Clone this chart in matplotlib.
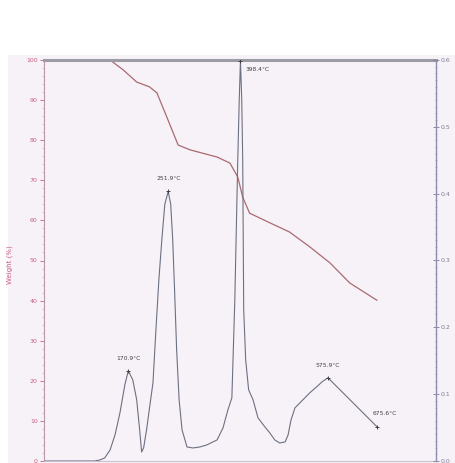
import numpy as np
import matplotlib
matplotlib.use("Agg")
import matplotlib.pyplot as plt
from matplotlib.patches import Rectangle
from matplotlib.ticker import MultipleLocator

# TG curve: temperature (deg C) vs weight (%)
tg_temp = [0, 124, 134, 161, 188, 214, 229, 249, 272, 296, 351, 377, 393,
           403, 417, 458, 498, 539, 580, 620, 675]
tg_weight = [100, 100, 100, 97.5, 94.5, 93.3, 91.8, 85.8, 78.8, 77.6, 75.8,
             74.3, 70.8, 65.8, 61.8, 59.4, 57.1, 53.4, 49.4, 44.4, 40.1]

# DTG curve: temperature (deg C) vs derivative weight
dtg_temp = [0, 52, 103, 113, 123, 134, 144, 154, 164, 170.9, 180, 188, 194,
            198, 202, 208, 214, 221, 227, 233, 239, 245, 251.9, 257, 261, 265,
            269, 274, 280, 290, 302, 316, 330, 351, 363, 373, 381, 387, 393,
            396, 398.4, 401, 403, 405, 409, 415, 424, 434, 448, 458, 468, 478,
            489, 495, 501, 509, 519, 539, 553, 564, 575.9, 675.6]
dtg_value = [0, 0, 0, 0.0015, 0.0045, 0.0165, 0.039, 0.072, 0.114, 0.135,
             0.1215, 0.0915, 0.0465, 0.0135, 0.0195, 0.0465, 0.0795, 0.117,
             0.1965, 0.2715, 0.3315, 0.384, 0.4035, 0.384, 0.3315, 0.252,
             0.1665, 0.0915, 0.0465, 0.021, 0.0195, 0.021, 0.024, 0.0315,
             0.0495, 0.0765, 0.0945, 0.2415, 0.4515, 0.5415, 0.5985, 0.5415,
             0.4515, 0.2265, 0.1515, 0.1065, 0.0915, 0.0645, 0.051, 0.042,
             0.0315, 0.027, 0.0285, 0.039, 0.0615, 0.0795, 0.087, 0.102, 0.111,
             0.1185, 0.1245, 0.051]

# annotated peaks
peak_temp = [170.9, 251.9, 398.4, 575.9, 675.6]
peak_dtg = [0.135, 0.4035, 0.5985, 0.1245, 0.051]

bg = "#f7f2f8"
tg_color = "#a86a70"
dtg_color = "#6c7080"
left_col = "#c8607e"
right_col = "#7c7c96"

fig = plt.figure(figsize=(4.56, 4.63), dpi=100, facecolor="white")
fig.patches.append(Rectangle((8 / 456, 0), 1, 408 / 463, transform=fig.transFigure,
                             facecolor=bg, edgecolor="none", zorder=-5))

ax = fig.add_axes([44 / 456, 2 / 463, 392 / 456, 401 / 463])
ax.set_facecolor(bg)
ax.plot(tg_temp, tg_weight, color=tg_color, lw=0.9)
ax.set_xlim(0, 795)
ax.set_ylim(0, 100)
ax.yaxis.set_major_locator(MultipleLocator(10))
ax.yaxis.set_minor_locator(MultipleLocator(2))
ax.tick_params(axis="y", which="major", direction="out", length=3, width=0.6,
               colors=left_col, labelsize=4.5, pad=1.5)
ax.tick_params(axis="y", which="minor", direction="out", length=1.2, width=0.4,
               colors="#c0a0b0")
ax.tick_params(axis="x", bottom=False, labelbottom=False)
for side in ["left", "right", "bottom"]:
    ax.spines[side].set_linewidth(0.8)
ax.spines["left"].set_color("#b898a8")
ax.spines["bottom"].set_color("#c8c0d0")
ax.spines["top"].set_color("#9c9ca4")
ax.spines["top"].set_linewidth(2.2)

ax2 = ax.twinx()
ax2.plot(dtg_temp, dtg_value, color=dtg_color, lw=0.8)
ax2.set_ylim(0, 0.6)
ax2.yaxis.set_major_locator(MultipleLocator(0.1))
ax2.yaxis.set_minor_locator(MultipleLocator(0.01))
ax2.tick_params(axis="y", which="major", direction="inout", length=4, width=0.6,
                colors=right_col, labelsize=4.5, pad=1.5)
ax2.tick_params(axis="y", which="minor", direction="inout", length=2, width=0.4,
                colors="#9898b8")
ax2.spines["right"].set_color("#8c8cac")
ax2.spines["right"].set_linewidth(0.8)
ax2.spines["top"].set_visible(False)
ax2.spines["left"].set_visible(False)
ax2.spines["bottom"].set_visible(False)

# peak markers and labels
ax2.plot(peak_temp, peak_dtg, "+", color="#404048", ms=3.5, mew=0.7)
offsets = [(0, 9, "center"), (0, 9, "center"), (4, -6, "left"),
           (0, 9, "center"), (-3, 10, "left")]
for t, d, (dx, dy, ha) in zip(peak_temp, peak_dtg, offsets):
    ax2.annotate(f"{t}°C", (t, d), xytext=(dx, dy), textcoords="offset points",
                 ha=ha, va="center", fontsize=4.3, color="#404048")

fig.text(10 / 456, 1 - 265 / 463, "Weight (%)", rotation=90, ha="center",
         va="center", fontsize=5, color=left_col)

fig.savefig("out.png", dpi=100, facecolor="white")
